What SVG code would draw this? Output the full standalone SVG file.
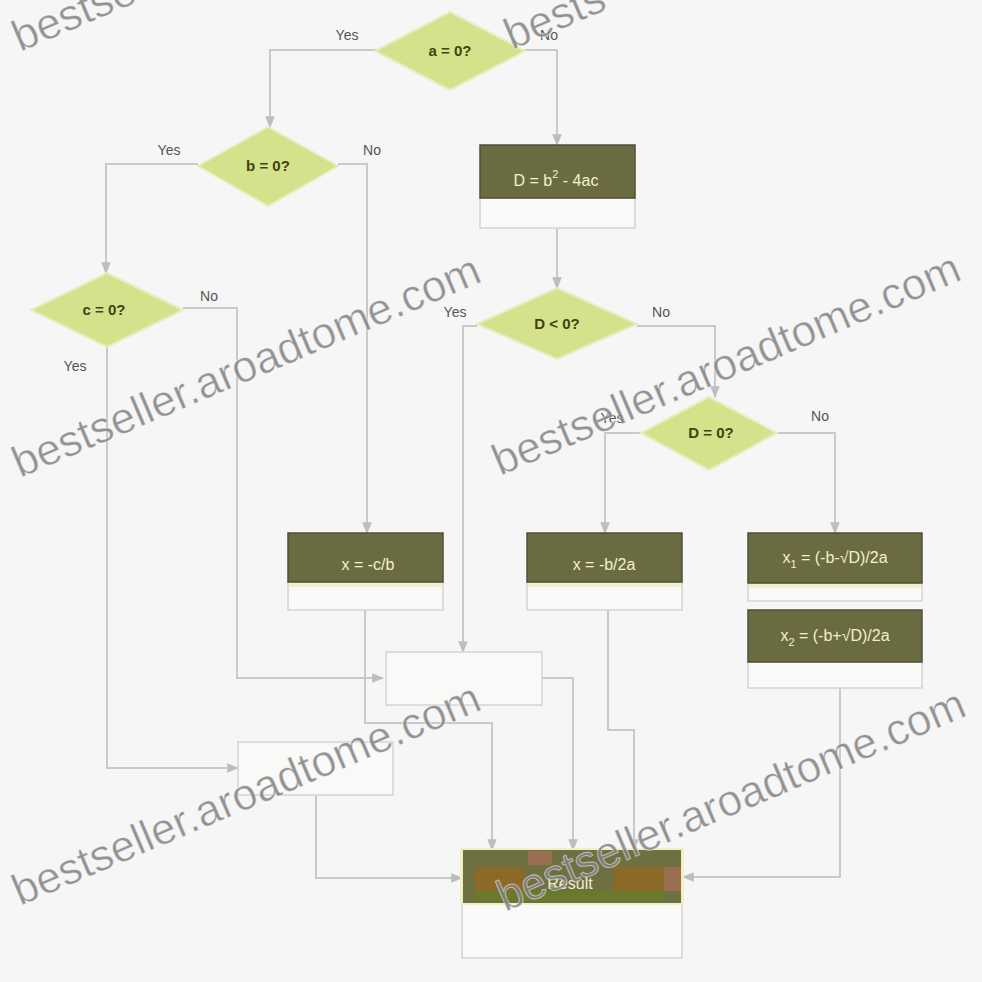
<svg xmlns="http://www.w3.org/2000/svg" width="982" height="982" viewBox="0 0 982 982">
<defs>
<style>
.bg{fill:#f6f6f6}
.dia{fill:#d5e28c;stroke:#e6eec0;stroke-width:2}
.dt{font-family:"Liberation Sans",Arial,sans-serif;font-size:15px;fill:#3f4412;text-anchor:middle;font-weight:bold}
.box{fill:#6b6b42;stroke:#4f4f3a;stroke-width:1.5}
.sub{fill:#f9f9f7;stroke:#d4d4d4;stroke-width:1.5}
.strip{fill:#eef0cc}
.bt{font-family:"Liberation Sans",Arial,sans-serif;font-size:16px;fill:#f1f1cc;text-anchor:middle}
.lbl{font-family:"Liberation Sans",Arial,sans-serif;font-size:14px;fill:#555555;text-anchor:middle}
.c{fill:none;stroke:#c9c9c9;stroke-width:2}
.wm{font-family:"Liberation Sans",Arial,sans-serif;font-size:44px;fill:#808080;fill-opacity:0.85;stroke:#ffffff;stroke-opacity:0.5;stroke-width:1}
</style>
<marker id="ar" viewBox="0 0 10 10" refX="9" refY="5" markerWidth="6" markerHeight="6" orient="auto">
<path d="M0,1 L10,5 L0,9 z" fill="#bdbdbd"/>
</marker>
</defs>
<rect class="bg" x="0" y="0" width="982" height="982"/>

<g id="connectors">
<path class="c" marker-end="url(#ar)" d="M376,50 H270 V127"/>
<path class="c" marker-end="url(#ar)" d="M525,50 H557 V145"/>
<path class="c" marker-end="url(#ar)" d="M198,164 H106 V273"/>
<path class="c" marker-end="url(#ar)" d="M338,164 H367 V533"/>
<path class="c" marker-end="url(#ar)" d="M557,228 V288"/>
<path class="c" marker-end="url(#ar)" d="M183,308 H237 V678 H383"/>
<path class="c" marker-end="url(#ar)" d="M107,347 V768 H238"/>
<path class="c" marker-end="url(#ar)" d="M477,326 H463 V652"/>
<path class="c" marker-end="url(#ar)" d="M637,326 H715 V397"/>
<path class="c" marker-end="url(#ar)" d="M641,433 H605 V533"/>
<path class="c" marker-end="url(#ar)" d="M777,433 H835 V533"/>
<path class="c" marker-end="url(#ar)" d="M365,610 V723 H492 V850"/>
<path class="c" marker-end="url(#ar)" d="M542,678 H573 V850"/>
<path class="c" marker-end="url(#ar)" d="M608,610 V730 H634 V850"/>
<path class="c" marker-end="url(#ar)" d="M840,688 V877 H683"/>
<path class="c" marker-end="url(#ar)" d="M316,795 V878 H462"/>
<text class="lbl" x="347" y="40">Yes</text>
<text class="lbl" x="549" y="40">No</text>
<text class="lbl" x="169" y="155">Yes</text>
<text class="lbl" x="372" y="155">No</text>
<text class="lbl" x="209" y="301">No</text>
<text class="lbl" x="75" y="371">Yes</text>
<text class="lbl" x="455" y="317">Yes</text>
<text class="lbl" x="661" y="317">No</text>
<text class="lbl" x="612" y="423">Yes</text>
<text class="lbl" x="820" y="421">No</text>
</g>

<g id="n_a0">
<polygon class="dia" points="450,12 525,51 450,90 375,51"/>
<text class="dt" x="450" y="56">a = 0?</text>
</g>
<g id="n_b0">
<polygon class="dia" points="268,127 338,166 268,206 198,166"/>
<text class="dt" x="268" y="171">b = 0?</text>
</g>
<g id="n_c0">
<polygon class="dia" points="107,273 183,310 107,347 31,310"/>
<text class="dt" x="104" y="315">c = 0?</text>
</g>
<g id="n_disc">
<rect class="sub" x="480" y="198" width="155" height="30"/>
<rect class="box" x="480" y="145" width="155" height="53"/>
<text class="bt" x="556" y="186">D = b<tspan dy="-8" font-size="11">2</tspan><tspan dy="8"> - 4ac</tspan></text>
</g>
<g id="n_dlt0">
<polygon class="dia" points="557,288 637,324 557,359 477,324"/>
<text class="dt" x="557" y="329">D &lt; 0?</text>
</g>
<g id="n_deq0">
<polygon class="dia" points="709,397 777,433 709,470 641,433"/>
<text class="dt" x="711" y="438">D = 0?</text>
</g>
<g id="n_xcb">
<rect class="sub" x="288" y="582" width="155" height="28"/>
<rect class="strip" x="289" y="583" width="153" height="4"/>
<rect class="box" x="288" y="533" width="155" height="49"/>
<text class="bt" x="368" y="570">x = -c/b</text>
</g>
<g id="n_xb2a">
<rect class="sub" x="527" y="582" width="155" height="28"/>
<rect class="strip" x="528" y="583" width="153" height="4"/>
<rect class="box" x="527" y="533" width="155" height="49"/>
<text class="bt" x="604" y="570">x = -b/2a</text>
</g>
<g id="n_x1">
<rect class="sub" x="748" y="583" width="174" height="18"/>
<rect class="strip" x="749" y="584" width="172" height="4"/>
<rect class="box" x="748" y="533" width="174" height="50"/>
<text class="bt" x="835" y="563">x<tspan dy="5" font-size="11">1</tspan><tspan dy="-5"> = (-b-√D)/2a</tspan></text>
</g>
<g id="n_x2">
<rect class="sub" x="748" y="662" width="174" height="26"/>
<rect class="box" x="748" y="610" width="174" height="52"/>
<text class="bt" x="835" y="641">x<tspan dy="5" font-size="11">2</tspan><tspan dy="-5"> = (-b+√D)/2a</tspan></text>
</g>
<g id="n_empty1">
<rect class="sub" x="386" y="652" width="156" height="53"/>
</g>
<g id="n_empty2">
<rect class="sub" x="238" y="742" width="155" height="53"/>
</g>
<g id="n_result">
<rect class="sub" x="462" y="903" width="220" height="55"/>
<rect x="460" y="848" width="224" height="57" fill="#f0f0c4"/>
<rect x="463" y="850" width="218" height="53" fill="#6e7042"/>
<rect x="475" y="867" width="50" height="24" fill="#8a6a26"/>
<rect x="528" y="851" width="24" height="14" fill="#9a6e50"/>
<rect x="614" y="867" width="50" height="24" fill="#8a6a26"/>
<rect x="664" y="867" width="17" height="24" fill="#9a6e50"/>
<rect x="475" y="891" width="190" height="10" fill="#6a7a2c"/>
<text class="bt" x="570" y="889" font-size="21">Result</text>
</g>

<g id="watermark">
<text class="wm" transform="translate(20,52) rotate(-23)">bestse</text>
<text class="wm" transform="translate(512,50) rotate(-23)">bests</text>
<text class="wm" transform="translate(20,478) rotate(-23)">bestseller.aroadtome.com</text>
<text class="wm" transform="translate(500,476) rotate(-23)">bestseller.aroadtome.com</text>
<text class="wm" transform="translate(20,906) rotate(-23)">bestseller.aroadtome.com</text>
<text class="wm" transform="translate(505,912) rotate(-23)">bestseller.aroadtome.com</text>
</g>
</svg>
